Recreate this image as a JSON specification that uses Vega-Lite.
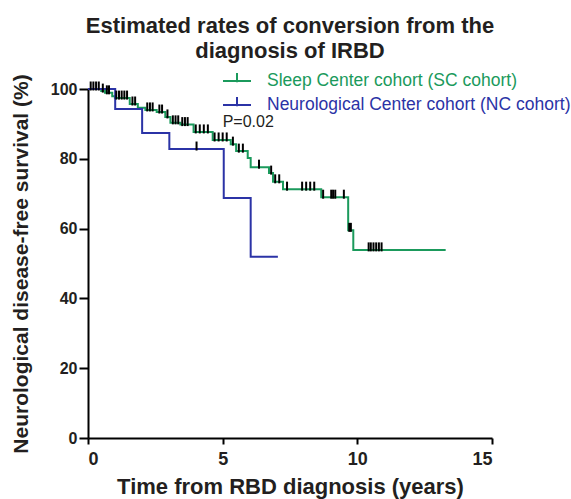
{
  "$schema": "https://vega.github.io/schema/vega-lite/v6.json",
  "width": 404,
  "height": 349,
  "autosize": {"type": "none"},
  "padding": {"left": 88, "top": 89, "right": 79, "bottom": 61},
  "background": "white",
  "title": {
    "text": ["Estimated rates of conversion from the", "diagnosis of IRBD"],
    "font": "Liberation Sans",
    "fontSize": 22,
    "fontWeight": "bold",
    "color": "#231f20",
    "anchor": "middle",
    "frame": "group",
    "lineHeight": 25,
    "offset": 9
  },
  "config": {
    "view": {"stroke": null},
    "font": "Liberation Sans",
    "axis": {
      "grid": false,
      "domainColor": "#000000",
      "domainWidth": 2,
      "tickColor": "#000000",
      "tickWidth": 2,
      "tickSize": 6,
      "labelFont": "Liberation Sans",
      "labelFontSize": 16,
      "labelFontWeight": "bold",
      "labelColor": "#231f20",
      "titleFont": "Liberation Sans",
      "titleFontWeight": "bold",
      "titleColor": "#231f20"
    }
  },
  "datasets": {
    "curves": [
      {"cohort": "Sleep Center cohort (SC cohort)", "t": 0, "v": 100},
      {"cohort": "Sleep Center cohort (SC cohort)", "t": 0.49, "v": 99.4},
      {"cohort": "Sleep Center cohort (SC cohort)", "t": 0.63, "v": 98.9},
      {"cohort": "Sleep Center cohort (SC cohort)", "t": 0.9, "v": 97.9},
      {"cohort": "Sleep Center cohort (SC cohort)", "t": 1.0, "v": 97.4},
      {"cohort": "Sleep Center cohort (SC cohort)", "t": 1.55, "v": 95.7},
      {"cohort": "Sleep Center cohort (SC cohort)", "t": 1.85, "v": 94.6},
      {"cohort": "Sleep Center cohort (SC cohort)", "t": 2.13, "v": 94.0},
      {"cohort": "Sleep Center cohort (SC cohort)", "t": 2.55, "v": 93.4},
      {"cohort": "Sleep Center cohort (SC cohort)", "t": 2.87, "v": 92.0},
      {"cohort": "Sleep Center cohort (SC cohort)", "t": 3.06, "v": 90.3},
      {"cohort": "Sleep Center cohort (SC cohort)", "t": 3.43, "v": 89.8},
      {"cohort": "Sleep Center cohort (SC cohort)", "t": 3.92, "v": 87.7},
      {"cohort": "Sleep Center cohort (SC cohort)", "t": 4.63, "v": 85.4},
      {"cohort": "Sleep Center cohort (SC cohort)", "t": 5.3, "v": 84.2},
      {"cohort": "Sleep Center cohort (SC cohort)", "t": 5.5, "v": 82.2},
      {"cohort": "Sleep Center cohort (SC cohort)", "t": 5.93, "v": 80.2},
      {"cohort": "Sleep Center cohort (SC cohort)", "t": 6.04, "v": 77.6},
      {"cohort": "Sleep Center cohort (SC cohort)", "t": 6.72, "v": 75.9},
      {"cohort": "Sleep Center cohort (SC cohort)", "t": 6.87, "v": 73.4},
      {"cohort": "Sleep Center cohort (SC cohort)", "t": 7.24, "v": 71.3},
      {"cohort": "Sleep Center cohort (SC cohort)", "t": 8.66, "v": 69.0},
      {"cohort": "Sleep Center cohort (SC cohort)", "t": 9.66, "v": 59.5},
      {"cohort": "Sleep Center cohort (SC cohort)", "t": 9.85, "v": 53.9},
      {"cohort": "Sleep Center cohort (SC cohort)", "t": 13.28, "v": 53.9},
      {"cohort": "Neurological Center cohort (NC cohort)", "t": 0, "v": 100},
      {"cohort": "Neurological Center cohort (NC cohort)", "t": 1.01, "v": 94.3},
      {"cohort": "Neurological Center cohort (NC cohort)", "t": 2.01, "v": 87.4},
      {"cohort": "Neurological Center cohort (NC cohort)", "t": 3.02, "v": 82.8},
      {"cohort": "Neurological Center cohort (NC cohort)", "t": 5.04, "v": 68.8},
      {"cohort": "Neurological Center cohort (NC cohort)", "t": 6.04, "v": 51.9},
      {"cohort": "Neurological Center cohort (NC cohort)", "t": 7.05, "v": 51.9}
    ],
    "censors": [
      {"t": 0.1, "v": 100}, {"t": 0.2, "v": 100}, {"t": 0.3, "v": 100}, {"t": 0.4, "v": 100},
      {"t": 0.55, "v": 99.4}, {"t": 0.7, "v": 98.9}, {"t": 0.78, "v": 98.9},
      {"t": 1.05, "v": 97.4}, {"t": 1.15, "v": 97.4}, {"t": 1.25, "v": 97.4}, {"t": 1.35, "v": 97.4}, {"t": 1.45, "v": 97.4},
      {"t": 1.65, "v": 95.7}, {"t": 1.75, "v": 95.7},
      {"t": 2.2, "v": 94.0}, {"t": 2.3, "v": 94.0}, {"t": 2.4, "v": 94.0},
      {"t": 2.65, "v": 93.4}, {"t": 2.75, "v": 93.4},
      {"t": 2.95, "v": 92.0},
      {"t": 3.15, "v": 90.3}, {"t": 3.25, "v": 90.3}, {"t": 3.35, "v": 90.3},
      {"t": 3.5, "v": 89.8}, {"t": 3.6, "v": 89.8}, {"t": 3.7, "v": 89.8},
      {"t": 4.0, "v": 87.7}, {"t": 4.15, "v": 87.7}, {"t": 4.3, "v": 87.7}, {"t": 4.45, "v": 87.7},
      {"t": 4.7, "v": 85.4}, {"t": 4.85, "v": 85.4}, {"t": 5.0, "v": 85.4}, {"t": 5.15, "v": 85.4},
      {"t": 5.38, "v": 84.2},
      {"t": 5.6, "v": 82.2}, {"t": 5.75, "v": 82.2},
      {"t": 6.35, "v": 77.6}, {"t": 6.8, "v": 75.9}, {"t": 6.95, "v": 73.4}, {"t": 7.1, "v": 73.4},
      {"t": 7.39, "v": 71.3}, {"t": 7.95, "v": 71.3}, {"t": 8.1, "v": 71.3}, {"t": 8.25, "v": 71.3}, {"t": 8.4, "v": 71.3},
      {"t": 8.73, "v": 69.0}, {"t": 9.03, "v": 69.0}, {"t": 9.1, "v": 69.0}, {"t": 9.18, "v": 69.0}, {"t": 9.5, "v": 69.0},
      {"t": 9.7, "v": 59.5}, {"t": 9.76, "v": 59.5},
      {"t": 10.42, "v": 53.9}, {"t": 10.5, "v": 53.9}, {"t": 10.6, "v": 53.9}, {"t": 10.7, "v": 53.9}, {"t": 10.8, "v": 53.9}, {"t": 10.9, "v": 53.9},
      {"t": 4.03, "v": 82.8}
    ],
    "annotation": [
      {"t": 5.0, "v": 90.5, "label": "P=0.02"}
    ]
  },
  "layer": [
    {
      "data": {"name": "curves"},
      "mark": {"type": "line", "interpolate": "step-after", "strokeWidth": 2},
      "encoding": {
        "x": {
          "field": "t", "type": "quantitative",
          "scale": {"domain": [0, 15], "nice": false, "zero": true},
          "axis": {"values": [0, 5, 10, 15], "title": "Time from RBD diagnosis (years)", "titleFontSize": 22, "labelFontSize": 18, "labelPadding": 6, "titlePadding": 8}
        },
        "y": {
          "field": "v", "type": "quantitative",
          "scale": {"domain": [0, 100], "nice": false},
          "axis": {"values": [0, 20, 40, 60, 80, 100], "title": "Neurological disease-free survival (%)", "titleFontSize": 21, "tickSize": 9, "labelPadding": 2, "titlePadding": 19}
        },
        "color": {
          "field": "cohort", "type": "nominal",
          "scale": {
            "domain": ["Sleep Center cohort (SC cohort)", "Neurological Center cohort (NC cohort)"],
            "range": ["#1b9a5c", "#2b33a6"]
          },
          "legend": {
            "orient": "none",
            "legendX": 140,
            "legendY": -17,
            "title": null,
            "padding": 0,
            "symbolType": "M-1.75,0H1.75M0,-1V0.15",
            "symbolSize": 256,
            "symbolStrokeWidth": 2,
            "labelFont": "Liberation Sans",
            "labelFontSize": 17.5,
            "labelLimit": 0,
            "labelOffset": 21,
            "rowPadding": 3,
            "encode": {"labels": {"update": {"fill": {"scale": "color", "field": "value"}}}}
          }
        },
        "order": {"field": "t", "type": "quantitative"}
      }
    },
    {
      "data": {"name": "censors"},
      "mark": {"type": "tick", "orient": "vertical", "color": "#000000", "size": 9, "thickness": 2, "yOffset": -3, "opacity": 1},
      "encoding": {
        "x": {"field": "t", "type": "quantitative"},
        "y": {"field": "v", "type": "quantitative"}
      }
    },
    {
      "data": {"name": "annotation"},
      "mark": {"type": "text", "align": "left", "baseline": "middle", "fontSize": 16, "font": "Liberation Sans", "color": "#231f20"},
      "encoding": {
        "x": {"field": "t", "type": "quantitative"},
        "y": {"field": "v", "type": "quantitative"},
        "text": {"field": "label"}
      }
    }
  ]
}
